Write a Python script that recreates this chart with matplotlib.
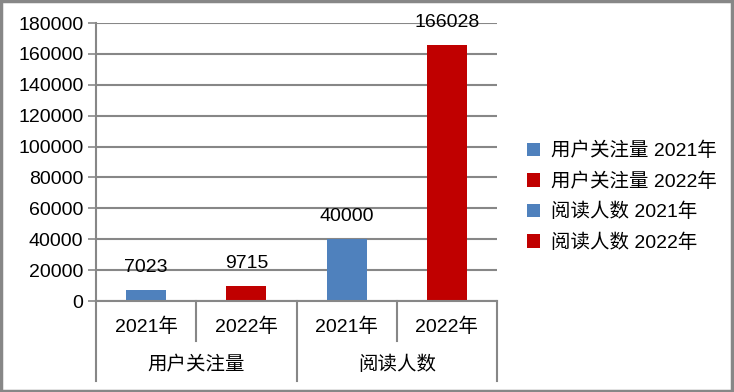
import matplotlib.pyplot as plt
from matplotlib.patches import Patch, Rectangle
from matplotlib.lines import Line2D

plt.rcParams['font.family'] = ['Liberation Sans', 'Noto Sans CJK SC', 'DejaVu Sans']

# ===== DATA =====
groups = ["用户关注量", "阅读人数"]
years = ["2021年", "2022年"]
values = [7023, 9715, 40000, 166028]
series_labels = ["用户关注量 2021年", "用户关注量 2022年", "阅读人数 2021年", "阅读人数 2022年"]
colors = ["#4F81BD", "#C00000", "#4F81BD", "#C00000"]
yticks = list(range(0, 180001, 20000))

GRAY = "#878787"
FS = 14

fig = plt.figure(figsize=(7.34, 3.92), dpi=100)
ax = fig.add_axes([96 / 734, 1 - 301 / 392, 401 / 734, 278 / 392])

x = list(range(len(values)))
ax.bar(x, values, width=0.4, color=colors, zorder=3)
for xi, v in zip(x, values):
    ax.annotate(str(v), (xi, v), xytext=(0, 10), textcoords="offset points",
                ha="center", va="bottom", fontsize=FS)

ax.set_xlim(-0.5, len(values) - 0.5)
ax.set_ylim(0, 180000)
ax.set_yticks(yticks)
ax.set_yticklabels([str(t) for t in yticks], fontsize=FS)
ax.tick_params(axis="y", length=6, width=1.2, color=GRAY, pad=3)
ax.set_xticks([])
ax.yaxis.grid(True, color=GRAY, linewidth=1.5, zorder=0)
for s in ["top", "right"]:
    ax.spines[s].set_visible(False)
for s in ["left", "bottom"]:
    ax.spines[s].set_color(GRAY)
    ax.spines[s].set_linewidth(1.5)
    ax.spines[s].set_zorder(4)

# ===== CATEGORY AXIS =====
tr = ax.get_xaxis_transform()
h = 278.0
for i in range(len(values) + 1):
    xp = i - 0.5
    depth = 80 / h if i % 2 == 0 else 40 / h
    ax.add_line(Line2D([xp, xp], [0, -depth], transform=tr, color=GRAY,
                       linewidth=1.5, clip_on=False))
for i, v in enumerate(values):
    ax.text(i, -26 / h, years[i % 2], transform=tr, ha="center", va="center", fontsize=FS)
for g, name in enumerate(groups):
    ax.text(2 * g + 0.5, -64 / h, name, transform=tr, ha="center", va="center", fontsize=FS)

# ===== LEGEND =====
handles = [Patch(facecolor=c, edgecolor="none") for c in colors]
fig.legend(handles, series_labels, loc="center left", bbox_to_anchor=(509 / 734, 1 - 197 / 392),
           frameon=False, fontsize=FS, handlelength=0.7, handleheight=0.7,
           handletextpad=0.55, labelspacing=0.62)

# ===== BORDER =====
fig.patches.append(Rectangle((0.002, 0.003), 0.995, 0.994, transform=fig.transFigure,
                             fill=False, edgecolor=GRAY, linewidth=2.5))

fig.savefig("out.png", dpi=100)
